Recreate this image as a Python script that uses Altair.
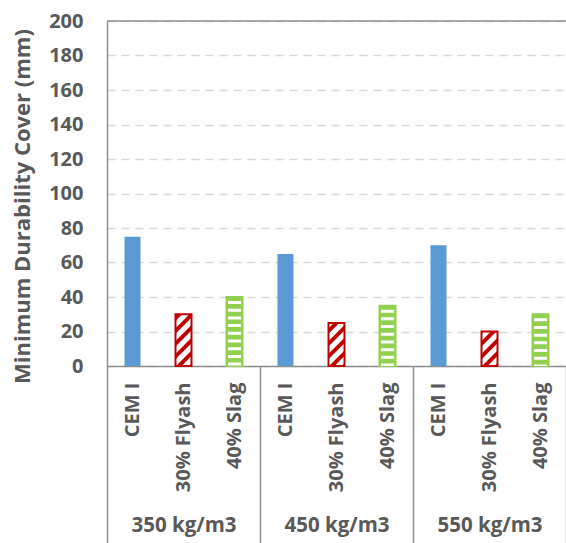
import base64

import altair as alt
import pandas as pd

# Mix design data: minimum durability cover (mm) per binder and cement content
groups = ["350 kg/m3", "450 kg/m3", "550 kg/m3"]
materials = ["CEM I", "30% Flyash", "40% Slag"]
cem_i = [75, 65, 70]
flyash = [30, 25, 20]
slag = [40, 35, 30]
y_ticks = [0, 20, 40, 60, 80, 100, 120, 140, 160, 180, 200]
y_max = 200

blue = "#5B9BD5"
red = "#C00000"
green = "#92D050"
text_grey = "#595959"
line_grey = "#8E8E8E"
font = "Open Sans"


def hatch_url(v):
    """Diagonal '/' hatch tile, in value units vertically, stretched over a bar."""
    w = 9.3
    step = 7.4
    lines = []
    y0 = v + w + step
    while y0 > -step:
        lines.append(
            f'<line x1="-2" y1="{y0 + 2:.2f}" x2="{w + 2:.2f}" y2="{y0 - w - 2:.2f}"/>'
        )
        y0 -= step
    svg = (
        f'<svg xmlns="http://www.w3.org/2000/svg" viewBox="0 0 {w} {v}" '
        f'preserveAspectRatio="none"><g stroke="{red}" stroke-width="2.3">'
        + "".join(lines)
        + "</g></svg>"
    )
    return "data:image/svg+xml;base64," + base64.b64encode(svg.encode()).decode()


rows = []
for g, a, b, c in zip(groups, cem_i, flyash, slag):
    for m, v in zip(materials, [a, b, c]):
        rows.append(
            {
                "group": g,
                "material": m,
                "key": f"{g}|{m}",
                "value": v,
                "hatch": hatch_url(v) if m == "30% Flyash" else "",
            }
        )
df = pd.DataFrame(rows)
keys = list(df["key"])

y_enc = alt.Y(
    "value:Q",
    scale=alt.Scale(domain=[0, y_max], nice=False, zero=True),
    axis=alt.Axis(
        values=y_ticks,
        title="Minimum Durability Cover (mm)",
        titleFont=font,
        titleFontSize=22,
        titleFontWeight="bold",
        titleColor=text_grey,
        titlePadding=14,
        titleY=185,
        labelFont=font,
        labelFontSize=20,
        labelFontWeight="bold",
        labelColor=text_grey,
        labelPadding=24,
        ticks=False,
        domainColor=line_grey,
        domainWidth=1.5,
        grid=True,
        gridColor="#D9D9D9",
        gridWidth=1.5,
        gridDash=[8, 6],
    ),
)
y0 = alt.datum(0)

x_key = alt.X(
    "key:N",
    scale=alt.Scale(domain=keys, paddingInner=0, paddingOuter=0),
    axis=alt.Axis(
        orient="bottom",
        title=None,
        labelExpr="split(datum.label, '|')[1]",
        labelAngle=270,
        labelAlign="right",
        labelBaseline="middle",
        labelFont=font,
        labelFontSize=20,
        labelFontWeight="bold",
        labelColor=text_grey,
        labelPadding=16,
        ticks=False,
        grid=False,
        domainColor=line_grey,
        domainWidth=1.5,
    ),
)

base = alt.Chart(df)

solid_bars = (
    base.transform_filter(alt.datum.material == "CEM I")
    .mark_bar(size=16, color=blue)
    .encode(x=x_key, y=y_enc, y2=y0)
)

slag_bars = (
    base.transform_filter(alt.datum.material == "40% Slag")
    .mark_bar(size=16, fill=green, stroke=green, strokeWidth=2)
    .encode(x=x_key, y=y_enc, y2=y0)
)

# white horizontal stripes across the slag bars
slag_stripes = (
    base.transform_filter(alt.datum.material == "40% Slag")
    .mark_rule(color="white", strokeWidth=13, strokeDash=[3, 4.7], strokeDashOffset=3.7)
    .encode(x=x_key, y=y_enc, y2=y0)
)

fly_fill = (
    base.transform_filter(alt.datum.material == "30% Flyash")
    .mark_bar(size=16, fill="white")
    .encode(x=x_key, y=y_enc, y2=y0)
)

fly_hatch = (
    base.transform_filter(alt.datum.material == "30% Flyash")
    .mark_image(width=16, aspect=False)
    .encode(x=x_key, y=y_enc, y2=y0, url="hatch:N")
)

fly_edge = (
    base.transform_filter(alt.datum.material == "30% Flyash")
    .mark_bar(size=16, fillOpacity=0, stroke=red, strokeWidth=2)
    .encode(x=x_key, y=y_enc, y2=y0)
)

# solid frame line along the top of the value range
top_line = (
    alt.Chart(pd.DataFrame({"value": [y_max]}))
    .mark_rule(color=line_grey, strokeWidth=1.5)
    .encode(y=y_enc)
)

bars = alt.layer(
    solid_bars, slag_bars, slag_stripes, fly_fill, fly_hatch, fly_edge, top_line
)

# group axis: long ticks on band edges act as separators, group names below
group_axis_layer = base.mark_point(opacity=0).encode(
    x=alt.X(
        "group:N",
        scale=alt.Scale(domain=groups, paddingInner=0, paddingOuter=0),
        axis=alt.Axis(
            orient="bottom",
            title=None,
            domain=False,
            grid=False,
            ticks=True,
            tickBand="extent",
            tickSize=177,
            tickColor=line_grey,
            tickWidth=1.5,
            labelAngle=0,
            labelBaseline="top",
            labelPadding=-28,
            labelFont=font,
            labelFontSize=20.5,
            labelFontWeight="bold",
            labelColor=text_grey,
        ),
    ),
    y=y_enc,
)

chart = (
    alt.layer(bars, group_axis_layer)
    .resolve_scale(x="independent")
    .properties(
        width=459,
        height=345,
        padding={"left": 107, "top": 21, "right": 0, "bottom": 177},
        autosize=alt.AutoSizeParams(type="none"),
        background="white",
    )
    .configure_view(stroke=None)
)

chart.save("out.html", embed_options={"renderer": "svg", "actions": False})
